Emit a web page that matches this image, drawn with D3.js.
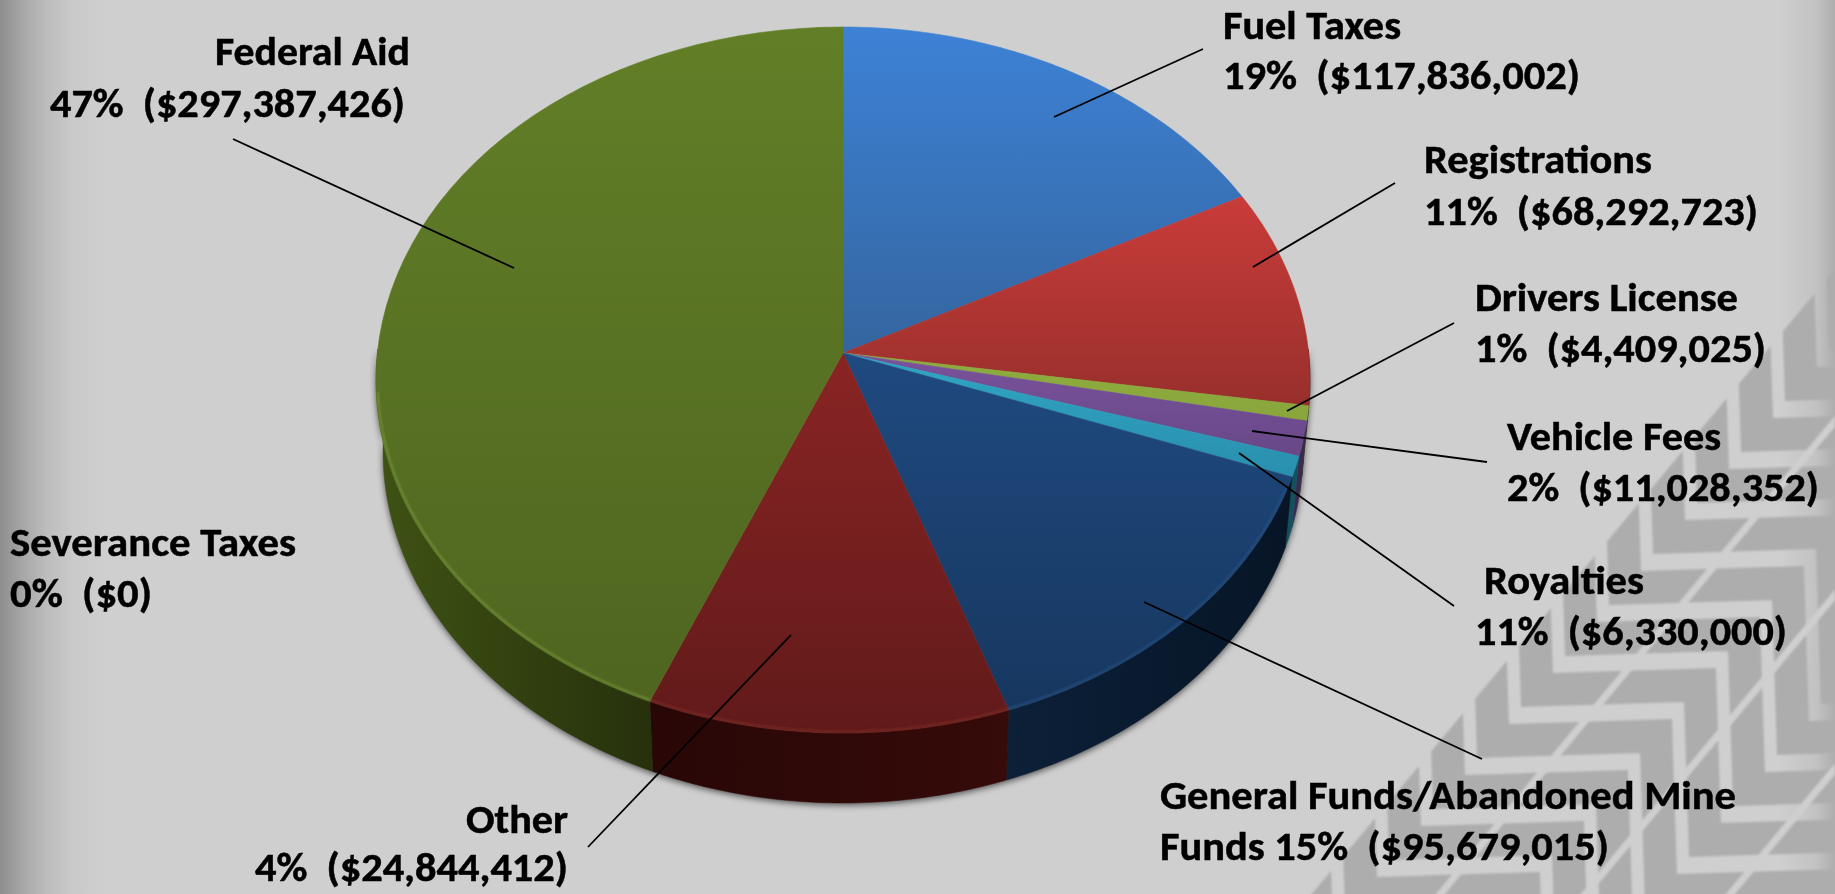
<!DOCTYPE html>
<html><head><meta charset="utf-8">
<script src="https://cdn.jsdelivr.net/npm/d3@7"></script>
<style>
html,body{margin:0;padding:0;background:#cfcfcf;overflow:hidden}
svg{display:block}
text{font-family:Carlito,Calibri,Lato,sans-serif;font-weight:700;fill:#000;stroke:#000;stroke-width:0.5px;white-space:pre}
</style></head><body>
<svg id="c" width="1835" height="894"></svg>
<script>
// Clockwise from 12 o'clock, as drawn in the picture
const categories = ["Fuel Taxes","Registrations","Drivers License","Vehicle Fees","Royalties","General Funds/Abandoned Mine Funds","Other","Federal Aid"];
// Angular share of each slice (percent)
const drawnShares = [16.3,9.86,0.69,1.61,0.97,14.8,12.56,43.21];
const colorTop    = ["#3d82d6","#c93c3a","#8dac3e","#7a529c","#2fa6c4","#1f4a80","#8a2424","#627f27"];
const colorBottom = ["#34659f","#982f2b","#89a63c","#684888","#2a8fae","#17375f","#611a1a","#4f6520"];
const wallLeft    = ["#000","#000","#3a4a18","#3a2a50","#15505f","#071526","#360b09","#3f5214"];
const wallRight   = ["#000","#000","#3a4a18","#3a2a50","#15505f","#0c2038","#280707","#26310c"];
const rimColor    = ["#4a8cd8","#d05048","#9ab84a","#8a62ac","#40b0cc","#2a5688","#823028","#7d9c3e"];

// Label texts
const labelLine1 = ["Fuel Taxes","Registrations","Drivers License","Vehicle Fees","Royalties","General Funds/Abandoned Mine","Other","Federal Aid","Severance Taxes"];
const labelPrefix = ["","","","","","Funds ","","",""];
const labelPct = [19,11,1,2,11,15,4,47,0];
const labelDollars = [117836002,68292723,4409025,11028352,6330000,95679015,24844412,297387426,0];
// Label layout: [x, baseline, width] of each line
const line1Box = [[1223,39,178],[1424,173,228],[1475,311,263],[1507,450,214],[1484,594,160],[1160,809,576],[466,833,102],[215,65,195],[10,556,286]];
const line2Box = [[1223,89,357],[1424,225,334],[1475,362,291],[1507,501,312],[1475,645,312],[1160,860,449],[255,881,313],[50,117,355],[10,607,142]];
// Leader line ends: [outer x, outer y, inner x, inner y]
const leaders = [[1203,49,1054,117],[1395,183,1253,267],[1454,323,1287,411],[1487,462,1252,431],[1454,606,1239,453],[1482,759,1144,602],[588,847,791,635],[233,139,514,268]];

const svg = d3.select("#c"), W = 1835, H = 894;
const defs = svg.append("defs");

// ---- background
const edge = defs.append("linearGradient").attr("id","edgeL");
[[0,"#8e8e8e"],[0.012,"#a6a6a6"],[0.025,"#bcbcbc"],[0.04,"#cacaca"],[0.06,"#cfcfcf"],[0.97,"#cfcfcf"],[0.99,"#c2c2c2"],[1,"#adadad"]]
  .forEach(s=>edge.append("stop").attr("offset",s[0]).attr("stop-color",s[1]));
svg.append("rect").attr("width",W).attr("height",H).attr("fill","url(#edgeL)");

// ---- tread pattern backdrop
const blur = defs.append("filter").attr("id","soft").attr("x","-5%").attr("y","-5%").attr("width","110%").attr("height","110%");
blur.append("feGaussianBlur").attr("stdDeviation",1.2);
const tex = defs.append("clipPath").attr("id","tread");
tex.append("path").attr("d",d3.line()([[1835,262],[1841,262],[1300,908],[1835,908]])+"Z");
const tread = svg.append("g").attr("filter","url(#soft)").append("g").attr("clip-path","url(#tread)");
const bandStep = [-44,51], armH = [163,-5], armV = [5,155];
d3.range(-3,16).forEach(k=>{
  const L = [1757+k*bandStep[0], 435+k*bandStep[1]];
  const pts = [[L[0]-armV[0],L[1]-armV[1]]];
  let p = L.slice();
  for(let i=0;i<5;i++){
    pts.push(p.slice());
    p=[p[0]+armH[0],p[1]+armH[1]]; pts.push(p.slice());
    p=[p[0]+armV[0],p[1]+armV[1]];
  }
  tread.append("path").attr("d",d3.line()(pts)).attr("fill","none")
    .attr("stroke","#adadad").attr("stroke-width",33).attr("stroke-linejoin","miter").attr("stroke-miterlimit",4);
});
// thin diagonal cuts through the tread
[[1750,523],[1895,523],[2040,523]].forEach(o=>{
  const t=420;
  tread.append("line").attr("x1",o[0]+0.64*t).attr("y1",o[1]-0.767*t).attr("x2",o[0]-0.64*t*1.4).attr("y2",o[1]+0.767*t*1.4)
    .attr("stroke","#cfcfcf").attr("stroke-width",7);
});

// ---- pie geometry
const xTop = d3.scaleLinear([-1,1],[376,1310]), yTop = d3.scaleLinear([-1,1],[27,733]);
const xBot = d3.scaleLinear([-1,1],[383,1303]), yBot = d3.scaleLinear([-1,1],[99,803]);
const apex = [843,353];
const pie = d3.pie().sort(null).value(d=>d)(drawnShares);
const ptTop = t=>[xTop(Math.sin(t)),yTop(-Math.cos(t))];
const ptBot = t=>[xBot(Math.sin(t)),yBot(-Math.cos(t))];
const samples = (a,b)=>d3.range(0,61).map(i=>a+(b-a)*i/60);
const line = d3.line();

pie.forEach((d,i)=>{
  const g = defs.append("linearGradient").attr("id","face"+i).attr("x1",0).attr("y1",0).attr("x2",0).attr("y2",1);
  g.append("stop").attr("offset",0).attr("stop-color",colorTop[i]);
  g.append("stop").attr("offset",1).attr("stop-color",colorBottom[i]);
  const w = defs.append("linearGradient").attr("id","wall"+i).attr("x1",i==7?1:0).attr("x2",i==7?0:1).attr("y1",0).attr("y2",0);
  w.append("stop").attr("offset",0).attr("stop-color",wallRight[i]);
  w.append("stop").attr("offset",1).attr("stop-color",wallLeft[i]);
});

// walls with a soft cast shadow
const walls = svg.append("g").style("filter","drop-shadow(0px 2px 3px rgba(0,0,0,0.6))");
const frontMin = 85*Math.PI/180, frontMax = 275*Math.PI/180;
pie.forEach((d,i)=>{
  const a=Math.max(d.startAngle,frontMin), b=Math.min(d.endAngle,frontMax);
  if(b<=a) return;
  const s=samples(a,b);
  walls.append("path").attr("d",line(s.map(ptTop).concat(s.slice().reverse().map(ptBot)))+"Z")
    .attr("fill",`url(#wall${i})`).attr("stroke",`url(#wall${i})`).attr("stroke-width",0.5);
});

// top faces
const faces = svg.append("g");
pie.forEach((d,i)=>{
  const pts=[apex].concat(samples(d.startAngle,d.endAngle).map(ptTop));
  faces.append("path").attr("d",line(pts)+"Z").attr("fill",`url(#face${i})`)
    .attr("stroke",`url(#face${i})`).attr("stroke-width",0.6);
});
// bevel highlight along the rim
const bevel = defs.append("filter").attr("id","bevel").attr("x","-2%").attr("y","-2%").attr("width","104%").attr("height","104%");
bevel.append("feGaussianBlur").attr("stdDeviation",1);
const rims = svg.append("g").attr("filter","url(#bevel)");
const rimFrom = 108*Math.PI/180, rimTo = 268*Math.PI/180;
pie.forEach((d,i)=>{
  const a=Math.max(d.startAngle,rimFrom), b=Math.min(d.endAngle,rimTo);
  if(b<=a) return;
  rims.append("path").attr("d",line(samples(a,b).map(t=>{const p=ptTop(t);return [p[0]-Math.sin(t)*1.5,p[1]+Math.cos(t)*1.5];})))
    .attr("fill","none").attr("stroke",rimColor[i]).attr("stroke-width",2).attr("opacity",0.7);
});

// ---- leaders
svg.append("g").selectAll("line").data(leaders).join("line")
  .attr("x1",d=>d[0]).attr("y1",d=>d[1]).attr("x2",d=>d[2]).attr("y2",d=>d[3])
  .attr("stroke","#000").attr("stroke-width",1.8);

// ---- labels
const money = d3.format("$,");
const labels = svg.append("g").attr("font-size",40);
const put=(s,b)=>labels.append("text").attr("x",b[0]).attr("y",b[1]).attr("textLength",b[2]).attr("lengthAdjust","spacingAndGlyphs").text(s);
labelLine1.forEach((s,i)=>{
  put(s,line1Box[i]);
  put(`${labelPrefix[i]}${labelPct[i]}%  (${money(labelDollars[i])})`,line2Box[i]);
});
</script>
</body></html>
